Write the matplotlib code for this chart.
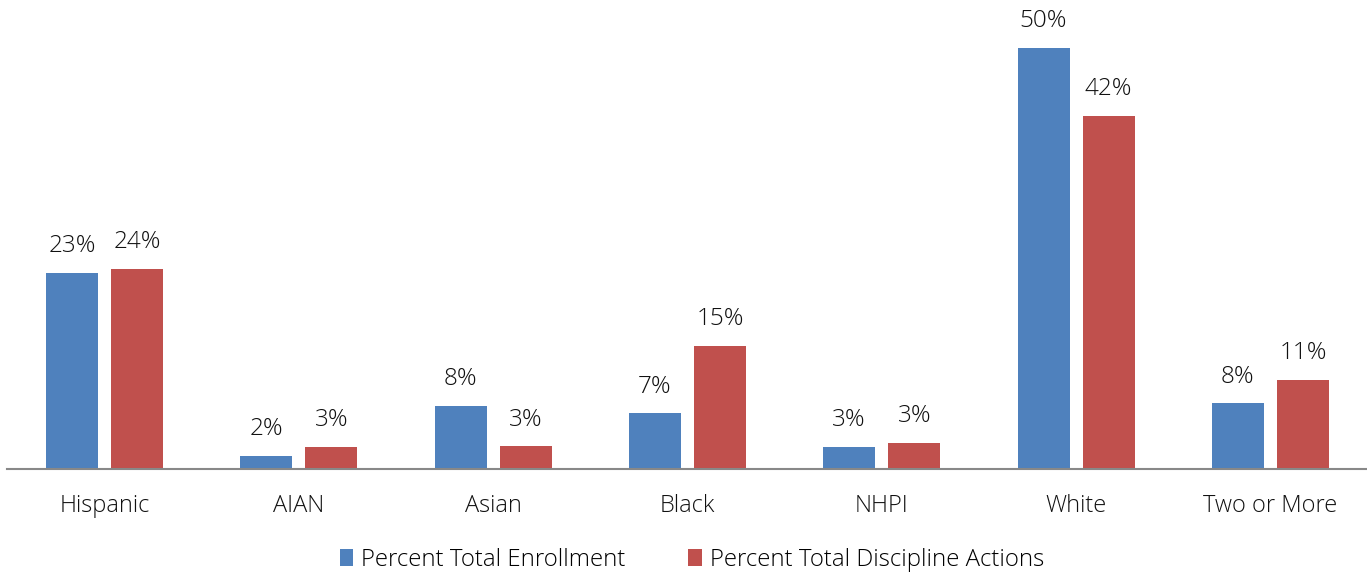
import numpy as np
import matplotlib.pyplot as plt

plt.rcParams['font.family'] = ['Open Sans', 'DejaVu Sans']

categories = ['Hispanic', 'AIAN', 'Asian', 'Black', 'NHPI', 'White', 'Two or More']
enrollment = [23.3, 1.6, 7.5, 6.6, 2.6, 50.0, 7.8]
discipline = [23.8, 2.6, 2.7, 14.6, 3.1, 41.9, 10.6]
series_names = ['Percent Total Enrollment', 'Percent Total Discipline Actions']

blue = '#4F81BD'
red = '#C0504D'
txt = '#111111'

fig = plt.figure(figsize=(13.67, 5.73), dpi=100)
ax = fig.add_axes([7.3 / 1367, 104 / 573, 1360.3 / 1367, 464 / 573])

x = np.arange(len(categories))
w = 0.268
gap = 0.067
b1 = ax.bar(x - (w + gap) / 2, enrollment, w, color=blue, label=series_names[0])
b2 = ax.bar(x + (w + gap) / 2, discipline, w, color=red, label=series_names[1])

for bars, vals in ((b1, enrollment), (b2, discipline)):
    for rect, v in zip(bars, vals):
        ax.text(rect.get_x() + rect.get_width() / 2, v + 1.75, f'{v:.0f}%',
                ha='center', va='bottom', fontsize=17.5, fontweight='light', color=txt)

ax.set_xlim(-0.5, len(categories) - 0.5)
ax.set_ylim(0, 464 / 8.42)
ax.set_xticks(x)
ax.set_xticklabels(categories, fontsize=17, fontweight='light', color=txt)
ax.tick_params(axis='x', length=0, pad=18)
ax.set_yticks([])
for s in ['top', 'right', 'left']:
    ax.spines[s].set_visible(False)
ax.spines['bottom'].set_color('#888888')
ax.spines['bottom'].set_linewidth(1.5)

fig.legend(handles=[b1, b2], loc='center', bbox_to_anchor=(692 / 1367, 1 - 560 / 573),
           ncol=2, frameon=False, handlelength=0.55, handleheight=0.75,
           handletextpad=0.35, columnspacing=2.6,
           prop={'size': 17.3, 'weight': 'light'})

fig.savefig('out.png', dpi=100)
